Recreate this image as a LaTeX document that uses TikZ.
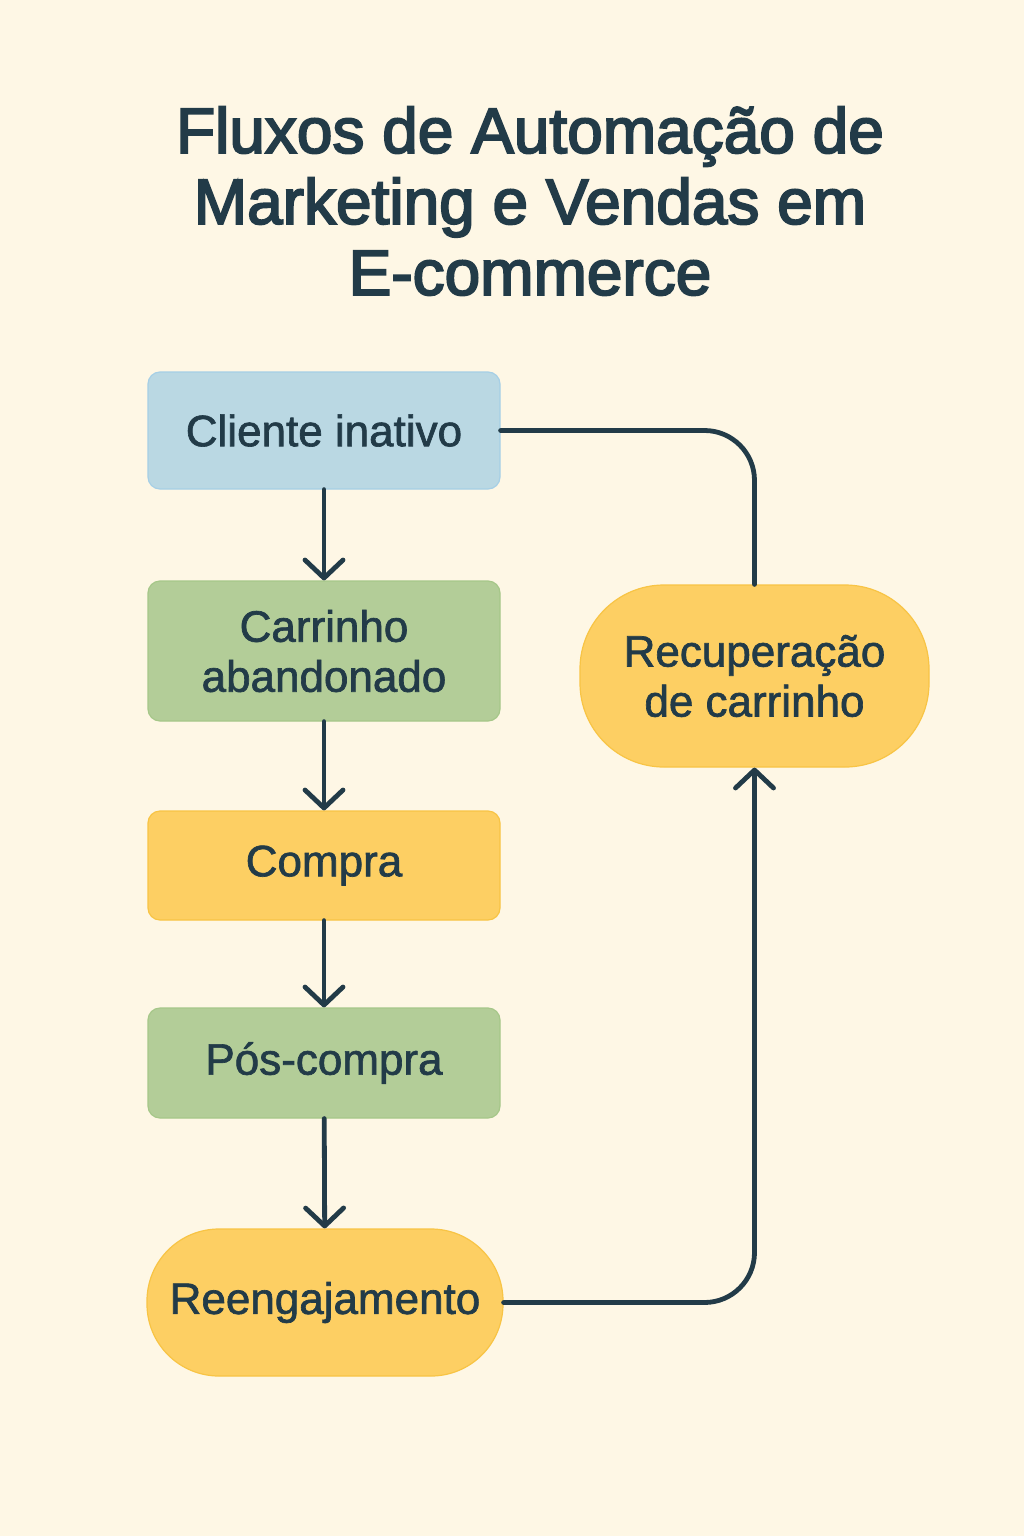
\documentclass[tikz,border=0pt]{standalone}
\usepackage{fontspec}
\setmainfont{Liberation Sans}
\newfontfamily\titlefont[FakeBold=3]{Liberation Sans}
\newfontfamily\boxfont[FakeBold=1.5]{Liberation Sans}
\usetikzlibrary{arrows.meta}
\definecolor{bg}{HTML}{FEF7E5}
\definecolor{ink}{HTML}{223B48}
\definecolor{blueF}{HTML}{BAD8E3}
\definecolor{blueD}{HTML}{A6CFE6}
\definecolor{greenF}{HTML}{B3CD98}
\definecolor{greenD}{HTML}{A6C789}
\definecolor{yelF}{HTML}{FDCF63}
\definecolor{yelD}{HTML}{F8C445}
\tikzset{
  box/.style={rounded corners=6pt, minimum width=176pt, align=center, text=ink,
    line width=0.6pt, font=\boxfont\fontsize{22}{25}\selectfont, inner sep=0pt},
  pill/.style={box, rounded corners=36pt},
  link/.style={draw=ink, line width=2.4pt, line cap=round, line join=round},
  flow/.style={link, -{Straight Barb[length=9pt,width=19pt,line cap=round,line join=round]}},
}
\begin{document}
\begin{tikzpicture}[x=0.5pt,y=-0.5pt]
\fill[bg] (0,0) rectangle (1024,1536);
\useasboundingbox (0,0) rectangle (1024,1536);
\node[text=ink, align=center, font=\titlefont\fontsize{32}{35.5}\selectfont] (title) at (530,201)
  {Fluxos de Automação de\\Marketing e Vendas em\\E-commerce};
\node[box, fill=blueF, draw=blueD, minimum height=58.5pt] (cli) at (324,430.5) {Cliente inativo};
\node[box, fill=greenF, draw=greenD, minimum height=70pt] (car) at (324,651) {Carrinho\\abandonado};
\node[box, fill=yelF, draw=yelD, minimum height=54.5pt] (com) at (324,865.5) {Compra};
\node[box, fill=greenF, draw=greenD, minimum height=55pt] (pos) at (324,1063) {Pós-compra};
\node[pill, fill=yelF, draw=yelD, minimum width=178pt, minimum height=73.5pt] (ree) at (325,1302.5) {Reengajamento};
\node[pill, fill=yelF, draw=yelD, minimum width=174.5pt, minimum height=91pt, rounded corners=42pt] (rec) at (754.5,676) {Recuperação\\de carrinho};
\draw[flow] (cli) -- (car);
\draw[flow] (car) -- (com);
\draw[flow] (com) -- (pos);
\draw[flow] (pos) -- (ree);
\draw[link, rounded corners=25pt] (cli.east) -| (rec.north);
\draw[flow, rounded corners=25pt] (ree.east) -| (rec.south);
\end{tikzpicture}
\end{document}
